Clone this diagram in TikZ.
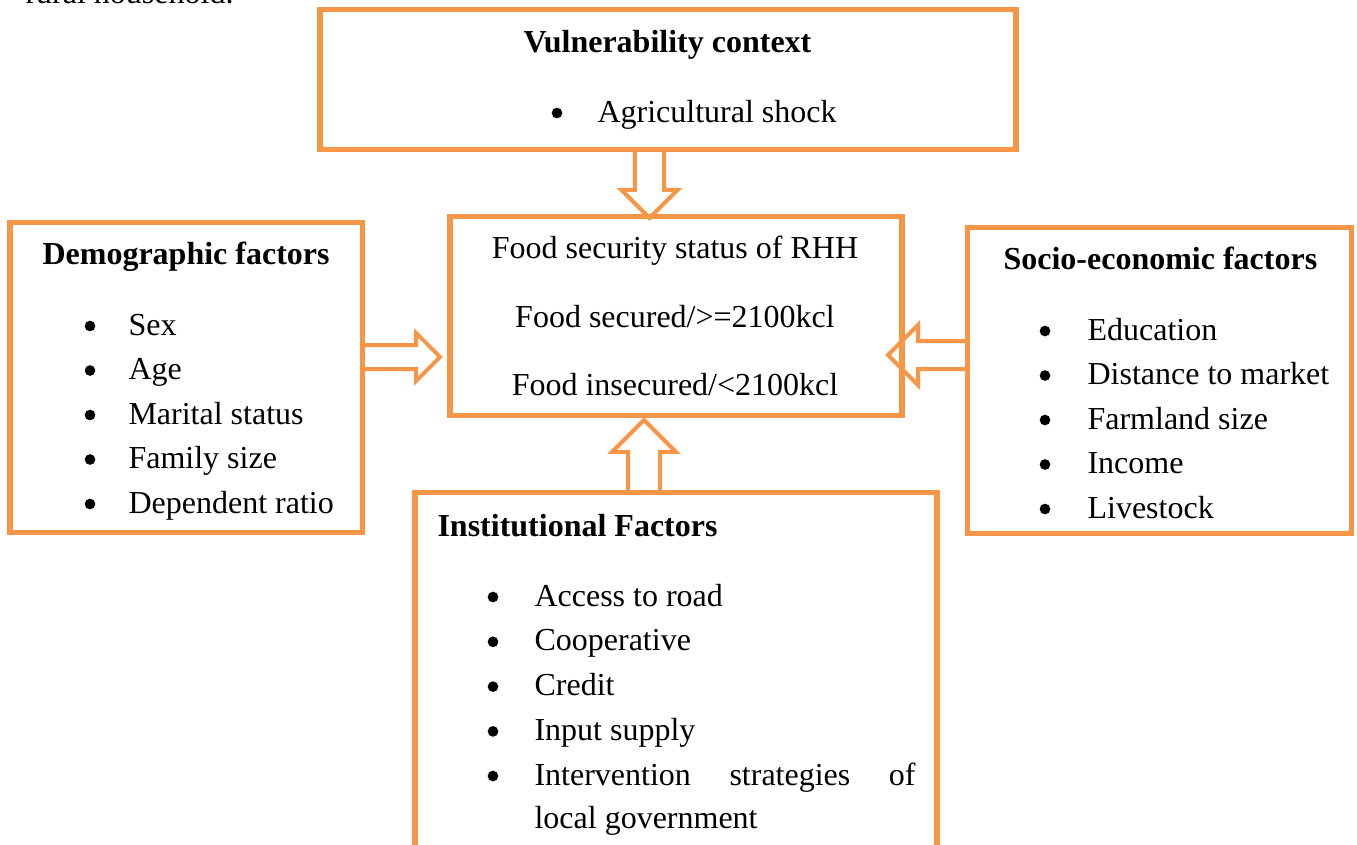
\documentclass[tikz,border=0pt]{standalone}
\usepackage{fontspec}
\setmainfont{Liberation Serif}
\usepackage{xcolor}
\usetikzlibrary{shapes.arrows,backgrounds}
\definecolor{boxorange}{HTML}{F79646}

\begin{document}
\begin{tikzpicture}[
  x=0.375pt, y=-0.375pt,
  font=\fontsize{12}{14}\selectfont,
  box/.style={rectangle, draw=boxorange, line width=1.9pt, outer sep=0pt, inner sep=0pt},
  head/.style={font=\fontsize{12}{14}\selectfont\bfseries, inner sep=0pt},
  item/.style={anchor=base west, inner sep=0pt},
  bigarr/.style={single arrow, draw=boxorange, fill=white, line width=1.5pt, outer sep=0pt, single arrow tip angle=90, anchor=tail},
  dot/.style={circle, fill=black, inner sep=0pt, minimum size=4pt}
]
\useasboundingbox (0,0) rectangle (1357,844);

\node[item] (prev) at (25,3) {rural household.};

\node[box, minimum width=261pt, minimum height=52.5pt] (vul) at (668,79.5) {};
\node[box, minimum width=132.2pt, minimum height=116.25pt] (demo) at (186.25,377.5) {};
\node[box, minimum width=169.5pt, minimum height=74.6pt] (food) at (676,316) {};
\node[box, minimum width=144pt, minimum height=114.6pt] (socio) at (1159.5,380.25) {};
\node[box, minimum width=195.75pt, minimum height=137.8pt] (inst) at (676,676.25) {};

\begin{scope}[on background layer]
\node[bigarr, rotate=-90, minimum height=25.7pt, inner sep=4.7pt, single arrow head extend=5.1pt] (vul2food) at (vul.south -| 649.5,0) {};
\node[bigarr, minimum height=29.1pt, inner sep=3.75pt, single arrow head extend=4.5pt] (demo2food) at (demo.east |- 0,357) {};
\node[bigarr, rotate=180, minimum height=29.8pt, inner sep=4.5pt, single arrow head extend=6pt] (socio2food) at (socio.west |- 0,355) {};
\node[bigarr, rotate=90, minimum height=27.2pt, inner sep=5.25pt, single arrow head extend=6pt] (inst2food) at (inst.north -| 644,0) {};
\end{scope}

\node[head, anchor=base] (vulh) at (667.5,52) {Vulnerability context};
\node[dot] (vulb) at (557,113) {};
\node[item] (vul1) at (597,122) {Agricultural shock};

\node[anchor=base, inner sep=0pt] (food1) at (675,258) {Food security status of RHH};
\node[anchor=base, inner sep=0pt] (food2) at (675,327) {Food secured/>=2100kcl};
\node[anchor=base, inner sep=0pt] (food3) at (675,395) {Food insecured/<2100kcl};

\node[head, anchor=base west] (demoh) at (42,264) {Demographic factors};
\foreach \t [count=\i from 0] in {Sex,Age,Marital status,Family size,Dependent ratio} {
  \node[dot] (demob\i) at (90,326+44.5*\i) {};
  \node[item] (demo\i) at (128,335+44.5*\i) {\t};
}

\node[head, anchor=base west] (socioh) at (1003,269) {Socio-economic factors};
\foreach \t [count=\i from 0] in {Education,Distance to market,Farmland size,Income,Livestock} {
  \node[dot] (sociob\i) at (1045,331+44.5*\i) {};
  \node[item] (socio\i) at (1087,340+44.5*\i) {\t};
}

\node[head, anchor=base west] (insth) at (437,536) {Institutional Factors};
\foreach \t [count=\i from 0] in {Access to road,Cooperative,Credit,Input supply} {
  \node[dot] (instb\i) at (493,597+44.8*\i) {};
  \node[item] (inst\i) at (534,606+44.8*\i) {\t};
}
\node[dot] (instb4) at (493,776) {};
\node[item, text width=142.9pt] (inst4) at (534,785) {Intervention\hfill strategies\hfill of};
\node[item] (inst5) at (534,828) {local government};
\end{tikzpicture}
\end{document}
